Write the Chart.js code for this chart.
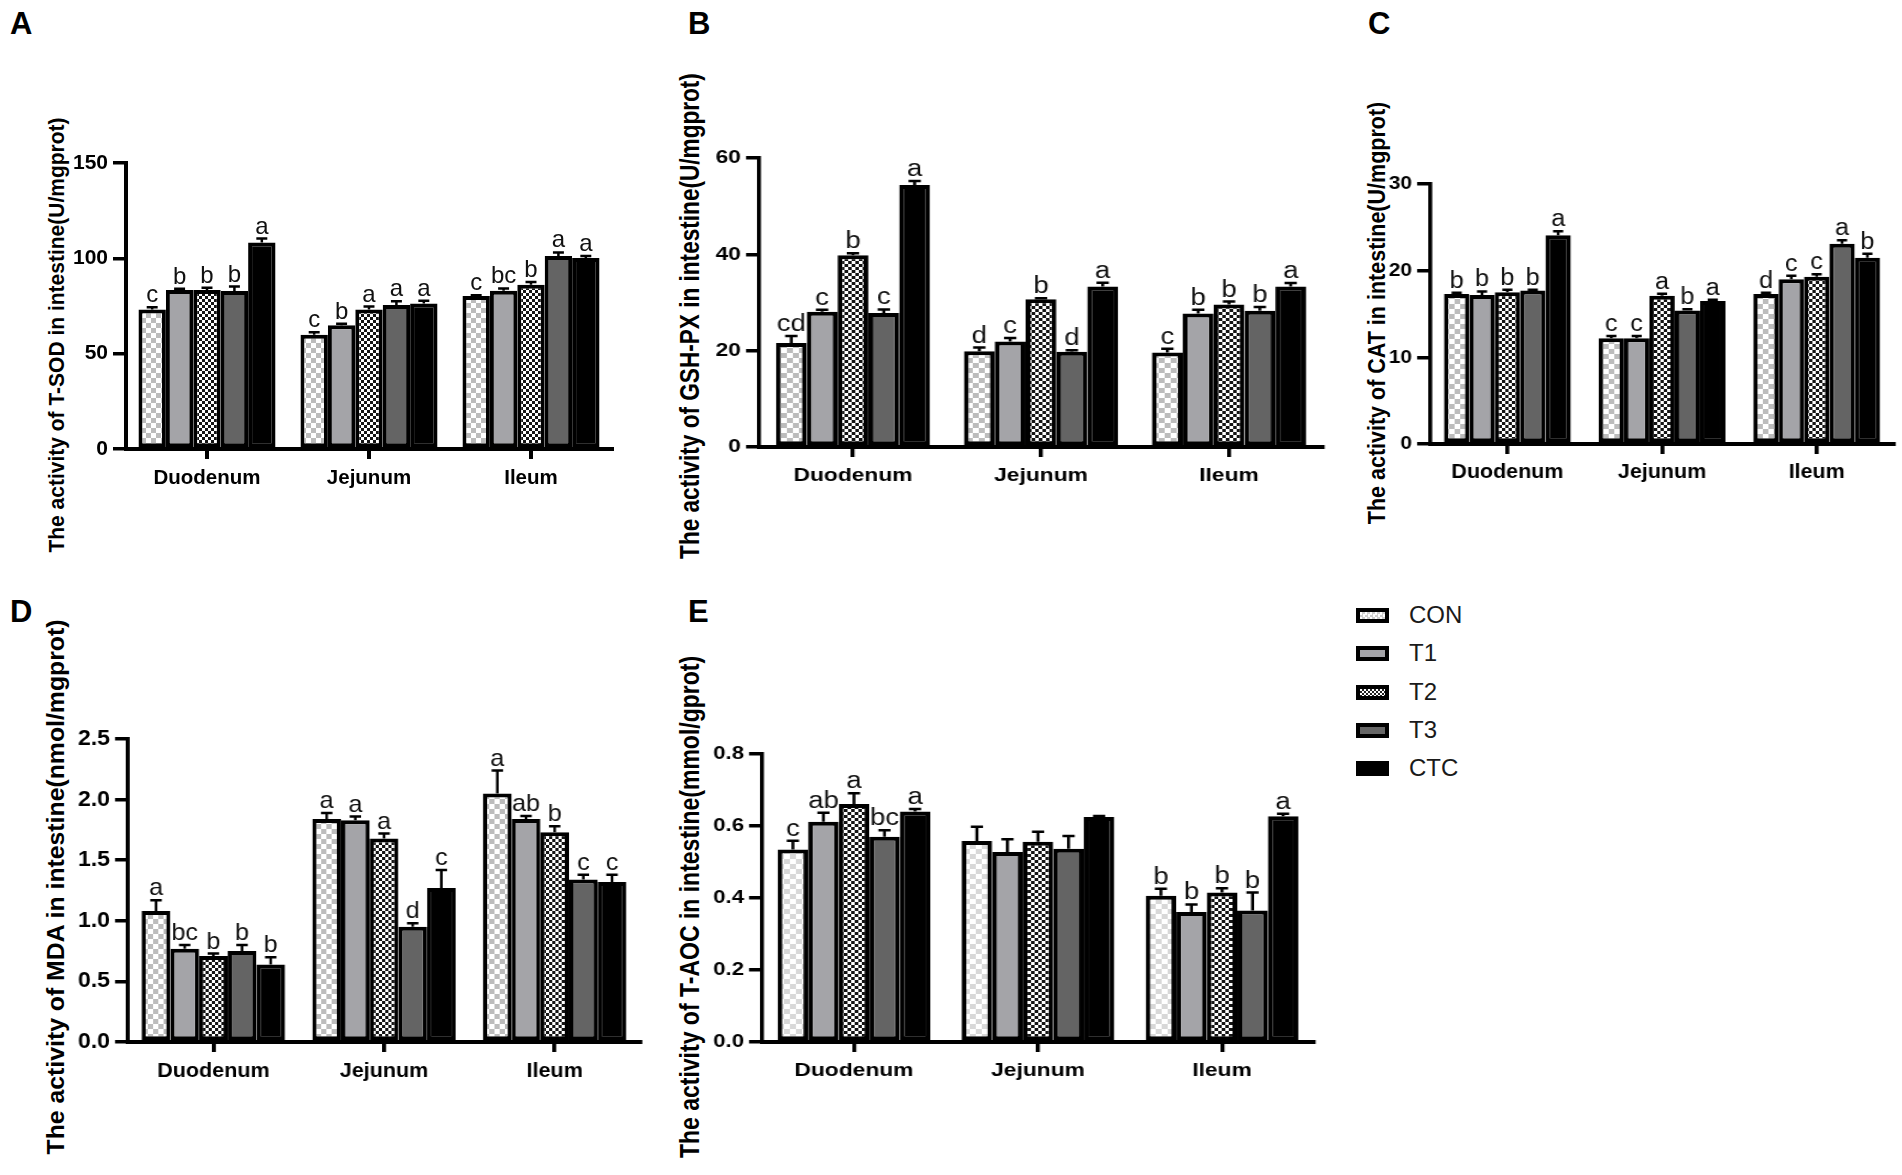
<!DOCTYPE html>
<html>
<head>
<meta charset="utf-8">
<script src="https://cdn.jsdelivr.net/npm/chart.js@4.4.1/dist/chart.umd.min.js"></script>
<style>
  body { margin: 0; background: #fff; width: 1902px; height: 1175px; overflow: hidden; position: relative;
         font-family: "Liberation Sans", Arial, sans-serif; }
  canvas { position: absolute; }
  .tag { position: absolute; font-weight: bold; font-size: 31px; line-height: 1; color: #000; }
  .ytitle { position: absolute; font-weight: bold; white-space: nowrap; line-height: 1; color: #000; }
  .leg { position: absolute; left: 1356px; height: 30px; display: flex; align-items: center; }
  .leg .box { width: 33px; height: 15px; box-sizing: border-box; border: 4px solid #000; }
  .leg span { margin-left: 20px; font-size: 24px; color: #1a1a1a; }
</style>
</head>
<body>

<div class="tag" style="left:10px;top:8px">A</div>
<div class="tag" style="left:688px;top:8px">B</div>
<div class="tag" style="left:1368px;top:8px">C</div>
<div class="tag" style="left:10px;top:596px">D</div>
<div class="tag" style="left:688px;top:596px">E</div>

<div class="ytitle" style="left:56px;top:335px;font-size:21px;transform:translate(-50%,-50%) scaleX(1.05) rotate(-90deg)">The activity of T-SOD in intestine(U/mgprot)</div>
<div class="ytitle" style="left:691px;top:316px;font-size:22.6px;transform:translate(-50%,-50%) scaleX(1.2) rotate(-90deg)">The activity of GSH-PX in intestine(U/mgprot)</div>
<div class="ytitle" style="left:1378px;top:313px;font-size:21.5px;transform:translate(-50%,-50%) scaleX(1.1) rotate(-90deg)">The activity of CAT in intestine(U/mgprot)</div>
<div class="ytitle" style="left:56px;top:887px;font-size:24.8px;transform:translate(-50%,-50%) rotate(-90deg)">The activity of MDA in intestine(nmol/mgprot)</div>
<div class="ytitle" style="left:690px;top:907px;font-size:23px;transform:translate(-50%,-50%) scaleX(1.2) rotate(-90deg)">The activity of T-AOC in intestine(mmol/gprot)</div>

<div class="leg" style="top:600px"><div class="box" style="background:repeating-conic-gradient(#d0d0d0 0 25%, #fff 0 50%) 0 0/5px 5px"></div><span>CON</span></div>
<div class="leg" style="top:638px"><div class="box" style="background:#a4a4a8"></div><span>T1</span></div>
<div class="leg" style="top:677px"><div class="box" style="background:repeating-conic-gradient(#222 0 25%, #fff 0 50%) 0 0/4px 4px"></div><span>T2</span></div>
<div class="leg" style="top:715px"><div class="box" style="background:#666"></div><span>T3</span></div>
<div class="leg" style="top:753px"><div class="box" style="background:#000"></div><span>CTC</span></div>

<canvas id="cA"></canvas>
<canvas id="cB"></canvas>
<canvas id="cC"></canvas>
<canvas id="cD"></canvas>
<canvas id="cE"></canvas>

<script>
// categories and groups
const segments = ['Duodenum', 'Jejunum', 'Ileum'];
const groups = ['CON', 'T1', 'T2', 'T3', 'CTC'];

// rows = CON, T1, T2, T3, CTC ; columns = Duodenum, Jejunum, Ileum
const sodMean = [[73.2, 59.9, 80.2], [83.4, 64.9, 83.0], [83.4, 73.2, 86.1], [82.9, 75.5, 101.2], [108.3, 76.3, 100.2]];
const sodErr  = [[1.2, 1.3, 0.5], [0.6, 0.8, 1.2], [1.2, 1.5, 1.5], [2.3, 2.0, 1.9], [2.1, 1.5, 1.0]];
const sodSig  = [['c', 'c', 'c'], ['b', 'b', 'bc'], ['b', 'a', 'b'], ['b', 'a', 'a'], ['a', 'a', 'a']];
const sodTicks = [0, 50, 100, 150];

const gshMean = [[21.6, 19.9, 19.6], [28.1, 21.9, 27.7], [39.8, 30.7, 29.6], [27.8, 19.8, 28.3], [54.4, 33.3, 33.3]];
const gshErr  = [[1.45, 0.75, 0.8], [0.4, 0.75, 0.8], [0.45, 0.2, 0.6], [0.75, 0.3, 0.75], [0.85, 0.8, 0.75]];
const gshSig  = [['cd', 'd', 'c'], ['c', 'c', 'b'], ['b', 'b', 'b'], ['c', 'd', 'b'], ['a', 'a', 'a']];
const gshTicks = [0, 20, 40, 60];

const catMean = [[17.3, 12.2, 17.3], [17.2, 12.2, 19.0], [17.5, 17.1, 19.3], [17.7, 15.4, 23.1], [24.1, 16.5, 21.5]];
const catErr  = [[0.15, 0.25, 0.15], [0.4, 0.25, 0.4], [0.3, 0.25, 0.3], [0.1, 0.15, 0.4], [0.45, 0.15, 0.45]];
const catSig  = [['b', 'c', 'd'], ['b', 'c', 'c'], ['b', 'a', 'c'], ['b', 'b', 'a'], ['a', 'a', 'b']];
const catTicks = [0, 10, 20, 30];

const mdaMean = [[1.08, 1.84, 2.05], [0.77, 1.83, 1.84], [0.71, 1.68, 1.73], [0.75, 0.95, 1.34], [0.64, 1.27, 1.32]];
const mdaErr  = [[0.09, 0.05, 0.19], [0.03, 0.03, 0.025], [0.02, 0.04, 0.05], [0.05, 0.03, 0.04], [0.06, 0.15, 0.06]];
const mdaSig  = [['a', 'a', 'a'], ['bc', 'a', 'ab'], ['b', 'a', 'b'], ['b', 'd', 'c'], ['b', 'c', 'c']];
const mdaTicks = [0, 0.5, 1.0, 1.5, 2.0, 2.5];

const aocMean = [[0.535, 0.558, 0.406], [0.612, 0.528, 0.361], [0.661, 0.556, 0.415], [0.570, 0.537, 0.365], [0.640, 0.625, 0.627]];
const aocErr  = [[0.024, 0.04, 0.02], [0.025, 0.035, 0.021], [0.03, 0.028, 0.012], [0.018, 0.035, 0.05], [0.007, 0.003, 0.007]];
const aocSig  = [['c', '', 'b'], ['ab', '', 'b'], ['a', '', 'b'], ['bc', '', 'b'], ['a', '', 'a']];
const aocTicks = [0, 0.2, 0.4, 0.6, 0.8];

const FONT = '"Liberation Sans", Arial, sans-serif';

function checker(ctx, size, c1, c2) {
  const cv = document.createElement('canvas');
  cv.width = cv.height = size * 2;
  const g = cv.getContext('2d');
  g.fillStyle = c1; g.fillRect(0, 0, size * 2, size * 2);
  g.fillStyle = c2; g.fillRect(0, 0, size, size); g.fillRect(size, size, size, size);
  return ctx.createPattern(cv, 'repeat');
}

// error bars (upper half) and significance letters
const errorBars = {
  id: 'errorBars',
  afterDatasetsDraw(chart, args, opts) {
    const ctx = chart.ctx, y = chart.scales.y;
    ctx.save();
    chart.data.datasets.forEach((ds, i) => {
      chart.getDatasetMeta(i).data.forEach((bar, j) => {
        const top = y.getPixelForValue(ds.data[j] + ds.errors[j]);
        const half = bar.width * 0.2;
        ctx.strokeStyle = '#000';
        ctx.lineWidth = 2.5;
        ctx.beginPath();
        ctx.moveTo(bar.x, bar.y); ctx.lineTo(bar.x, top);
        ctx.moveTo(bar.x - half, top); ctx.lineTo(bar.x + half, top);
        ctx.stroke();
        if (ds.letters[j]) {
          ctx.fillStyle = '#111';
          ctx.font = opts.size + 'px ' + FONT;
          ctx.textAlign = 'center';
          ctx.textBaseline = 'alphabetic';
          ctx.fillText(ds.letters[j], bar.x, top - 5);
        }
      });
    });
    ctx.restore();
  }
};

// s = horizontal stretch of the panel (the source figure panels are not all equally scaled)
function panel(id, p) {
  const s = p.stretch, yW = 80 / s, padT = 50, xH = 60, padR = 12 / s, padB = 4;
  const cssW = (p.end - p.axisX) + (yW + padR) * s;
  const cssH = (p.zero - p.top) + padT + xH + padB;
  const cv = document.getElementById(id);
  cv.width = Math.round(cssW / s);
  cv.height = cssH;
  cv.style.left = (p.axisX - yW * s) + 'px';
  cv.style.top = (p.top - padT) + 'px';
  cv.style.width = cssW + 'px';
  cv.style.height = cssH + 'px';
  const ctx = cv.getContext('2d');
  const fills = [
    checker(ctx, 5, '#ffffff', p.conGray),
    '#a4a4a8',
    checker(ctx, 3, '#ffffff', '#141414'),
    '#646464',
    '#000000'
  ];
  new Chart(ctx, {
    type: 'bar',
    data: {
      labels: segments,
      datasets: groups.map((g, i) => ({
        label: g,
        data: p.mean[i],
        errors: p.err[i],
        letters: p.sig[i],
        backgroundColor: fills[i],
        borderColor: '#000',
        borderWidth: 4,
        borderSkipped: false,
        barPercentage: 1.0,
        categoryPercentage: p.catPct
      }))
    },
    options: {
      responsive: false,
      animation: false,
      devicePixelRatio: 1,
      layout: { padding: { top: padT, right: padR, bottom: padB, left: 0 } },
      plugins: { legend: { display: false }, tooltip: { enabled: false }, errorBars: { size: p.letterSize } },
      scales: {
        x: {
          offset: true,
          grid: { offset: false, drawOnChartArea: false, tickLength: 10, lineWidth: 4 / s, color: '#000' },
          border: { display: true, width: 4, color: '#000' },
          ticks: { color: '#000', padding: 7, maxRotation: 0, font: { family: FONT, size: p.catSize, weight: 'bold' } },
          afterFit: sc => { sc.height = xH; }
        },
        y: {
          min: 0,
          max: p.ticks[p.ticks.length - 1],
          afterBuildTicks: sc => { sc.ticks = p.ticks.map(v => ({ value: v })); },
          grid: { drawOnChartArea: false, tickLength: 13 / s, lineWidth: 3.5, color: '#000' },
          border: { display: true, width: 4 / s, color: '#000' },
          ticks: { color: '#000', padding: 5 / s, font: { family: FONT, size: p.tickSize, weight: 'bold' },
                   callback: v => v.toFixed(p.dec) },
          afterFit: sc => { sc.width = yW; }
        }
      }
    },
    plugins: [errorBars]
  });
}

panel('cA', { mean: sodMean, err: sodErr, sig: sodSig, ticks: sodTicks, dec: 0, stretch: 1.0,
  axisX: 126, end: 612, top: 163, zero: 449, catPct: 0.846, tickSize: 21, catSize: 20.5, letterSize: 24, conGray: '#bcbcbc' });
panel('cB', { mean: gshMean, err: gshErr, sig: gshSig, ticks: gshTicks, dec: 0, stretch: 1.2,
  axisX: 759, end: 1323, top: 158, zero: 447, catPct: 0.82, tickSize: 19, catSize: 19, letterSize: 23, conGray: '#bcbcbc' });
panel('cC', { mean: catMean, err: catErr, sig: catSig, ticks: catTicks, dec: 0, stretch: 1.1,
  axisX: 1430, end: 1894, top: 184, zero: 444, catPct: 0.82, tickSize: 19, catSize: 19.5, letterSize: 23, conGray: '#bcbcbc' });
panel('cD', { mean: mdaMean, err: mdaErr, sig: mdaSig, ticks: mdaTicks, dec: 1, stretch: 1.05,
  axisX: 128, end: 640, top: 739, zero: 1042, catPct: 0.84, tickSize: 22, catSize: 20.5, letterSize: 24, conGray: '#bcbcbc' });
panel('cE', { mean: aocMean, err: aocErr, sig: aocSig, ticks: aocTicks, dec: 1, stretch: 1.2,
  axisX: 762, end: 1314, top: 754, zero: 1042, catPct: 0.83, tickSize: 18.5, catSize: 19, letterSize: 23, conGray: '#d8d8d8' });
</script>
</body>
</html>
